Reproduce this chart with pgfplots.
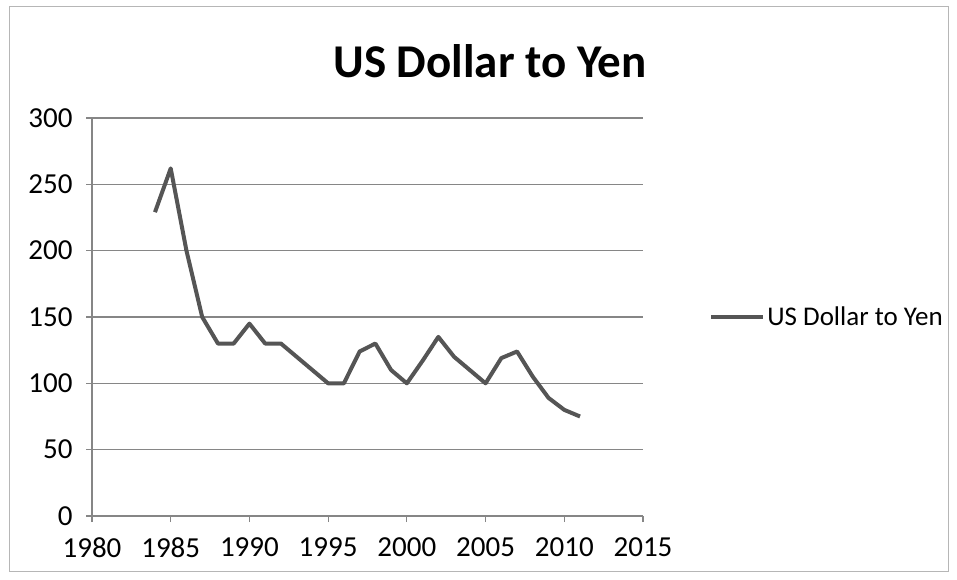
\documentclass[border=0pt]{standalone}
\usepackage{pgfplots}
\pgfplotsset{compat=1.18}
\usepackage{fontspec}
\setmainfont{Carlito}
\definecolor{linegray}{RGB}{85,85,85}
\definecolor{gridgray}{RGB}{134,134,134}
\begin{document}
\begin{tikzpicture}
\path[use as bounding box] (0pt,0pt) rectangle (957pt,580pt);
\draw[gridgray!60, line width=1pt] (9pt,8pt) rectangle (948pt,573pt);
\node[font=\fontsize{47}{52}\selectfont\bfseries, anchor=center] at (490pt,519pt) {US Dollar to Yen};
\begin{axis}[
  at={(92pt,64pt)}, anchor=south west,
  scale only axis, width=551pt, height=398pt,
  xmin=1980, xmax=2015, ymin=0, ymax=300,
  xtick={1980,1985,...,2015}, ytick={0,50,...,300},
  axis x line=bottom, axis y line=left,
  axis line style={gridgray, line width=1.2pt, -},
  tick style={gridgray, line width=1.2pt},
  xtick align=outside, ytick align=outside,
  major tick length=6pt,
  ymajorgrids, grid style={gridgray, line width=1.2pt},
  /pgf/number format/assume math mode=true,
  /pgf/number format/set thousands separator={},
  ticklabel style={font=\fontsize{29}{32}\selectfont, text=black},
  yticklabel style={xshift=-10pt},
  xticklabel style={yshift=-12pt},
  legend style={at={(1.12,0.5)}, anchor=west, draw=none, fill=none,
    font=\fontsize{27}{30}\selectfont, inner sep=0pt},
  legend cell align=left,
  legend image code/.code={\draw[#1, line width=4pt] (0pt,0pt) -- (52pt,0pt);},
]
\addplot[linegray, line width=4pt, line join=round] coordinates {
(1984,229) (1985,262) (1986,200) (1987,150) (1988,130) (1989,130)
(1990,145) (1991,130) (1992,130) (1993,120) (1994,110) (1995,100)
(1996,100) (1997,124) (1998,130) (1999,110) (2000,100) (2001,117)
(2002,135) (2003,120) (2004,110) (2005,100) (2006,119) (2007,124)
(2008,105) (2009,89) (2010,80) (2011,75)
};
\addlegendentry{US Dollar to Yen}
\end{axis}
\end{tikzpicture}
\end{document}
